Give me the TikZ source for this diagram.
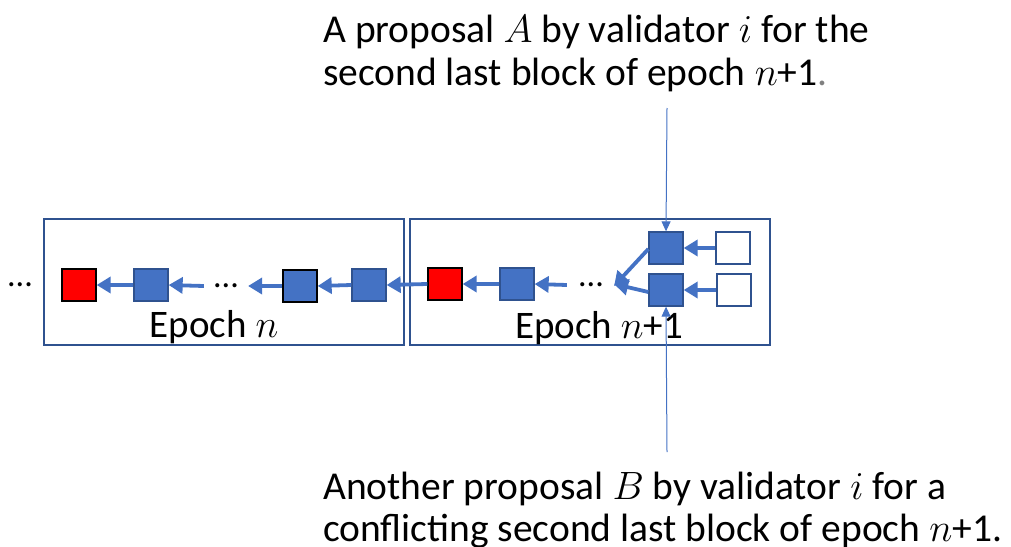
\RequirePackage{fix-cm}
\documentclass[tikz,border=0pt]{standalone}
\usepackage{fontspec}
\setmainfont{Carlito}
\usetikzlibrary{arrows.meta}
\definecolor{blk}{HTML}{4472C4}
\definecolor{bdr}{HTML}{2F528F}
\begin{document}
\begin{tikzpicture}[x=1pt,y=-1pt,
  blockb/.style={draw=bdr,line width=1.3pt,fill=blk,minimum width=34pt,minimum height=32pt,inner sep=0pt},
  blockk/.style={draw=black,line width=1.3pt,fill=blk,minimum width=34pt,minimum height=32pt,inner sep=0pt},
  blockr/.style={draw=black,line width=1.3pt,fill=red,minimum width=34pt,minimum height=32pt,inner sep=0pt},
  blockw/.style={draw=bdr,line width=1.3pt,fill=white,minimum width=34pt,minimum height=32pt,inner sep=0pt},
  epoch/.style={draw=bdr,line width=1.3pt,inner sep=0pt},
  chain/.style={draw=blk,line width=3.8pt,-{Triangle[length=14pt,width=16pt]}},
  pointer/.style={draw=blk,line width=1pt,-{Triangle[length=10pt,width=9pt]}},
  dots/.style={font=\fontsize{34}{34}\selectfont,inner sep=0pt},
  lbl/.style={font=\fontsize{39.5}{43}\selectfont,inner sep=0pt,anchor=base west},
  ep/.style={font=\fontsize{39}{40}\selectfont,inner sep=0pt,anchor=base}
]
\useasboundingbox (0,0) rectangle (1011,546);
% epoch boxes
\node[epoch,minimum width=360pt,minimum height=126pt] (E1) at (224,282) {};
\node[epoch,minimum width=360pt,minimum height=126pt] (E2) at (590,282) {};
\node[ep] (L1) at (214,337) {Epoch $n$};
\node[ep] (L2) at (599,338) {Epoch $n$+1};
% blocks epoch n
\node[dots] (d0) at (20,285) {...};
\node[blockr] (r1) at (79,285) {};
\node[blockb] (b1) at (151,285) {};
\node[dots] (d1) at (226,286) {...};
\node[blockk] (k1) at (300,286) {};
\node[blockb] (b2) at (369,285) {};
% blocks epoch n+1
\node[blockr] (r2) at (445,284) {};
\node[blockb] (b3) at (517,284) {};
\node[dots] (d2) at (591,285) {...};
\node[blockb] (ua) at (666,248) {};
\node[blockb] (la) at (666,290) {};
\node[blockw] (uw) at (733,248) {};
\node[blockw] (lw) at (734,290) {};
% chain arrows
\draw[chain] (b1.west) -- (r1.east);
\draw[chain] ([xshift=-9pt]d1.west) -- (b1.east);
\draw[chain] (k1.west) -- ([xshift=9pt]d1.east);
\draw[chain] (b2.west) -- (k1.east);
\draw[chain] (r2.west) -- (b2.east);
\draw[chain] (b3.west) -- (r2.east);
\draw[chain] ([xshift=-11pt]d2.west) -- (b3.east);
\coordinate (tipA) at ([xshift=10pt,yshift=-1pt]d2.east);
\coordinate (tipB) at ([xshift=10pt,yshift=1pt]d2.east);
\draw[chain] ([yshift=-1pt]ua.west) -- (tipA);
\draw[chain] ([yshift=-2pt]la.west) -- (tipB);
\draw[chain] (uw.west) -- (ua.east);
\draw[chain] (lw.west) -- (la.east);
% labels
\node[lbl] (ta1) at (323,42) {A proposal $A$ by validator $i$ for the};
\node[lbl] (ta2) at (323,85) {second last block of epoch $n$+1\textcolor{gray}{.}};
\node[lbl] (tb1) at (323,499) {Another proposal $B$ by validator $i$ for a};
\node[lbl] (tb2) at (323,541) {conflicting second last block of epoch $n$+1.};
\coordinate (pa) at (667,108);
\coordinate (pb) at (667,452);
\draw[pointer] (pa) -- (ua.north);
\draw[pointer] (pb) -- (la.south);
\end{tikzpicture}
\end{document}
